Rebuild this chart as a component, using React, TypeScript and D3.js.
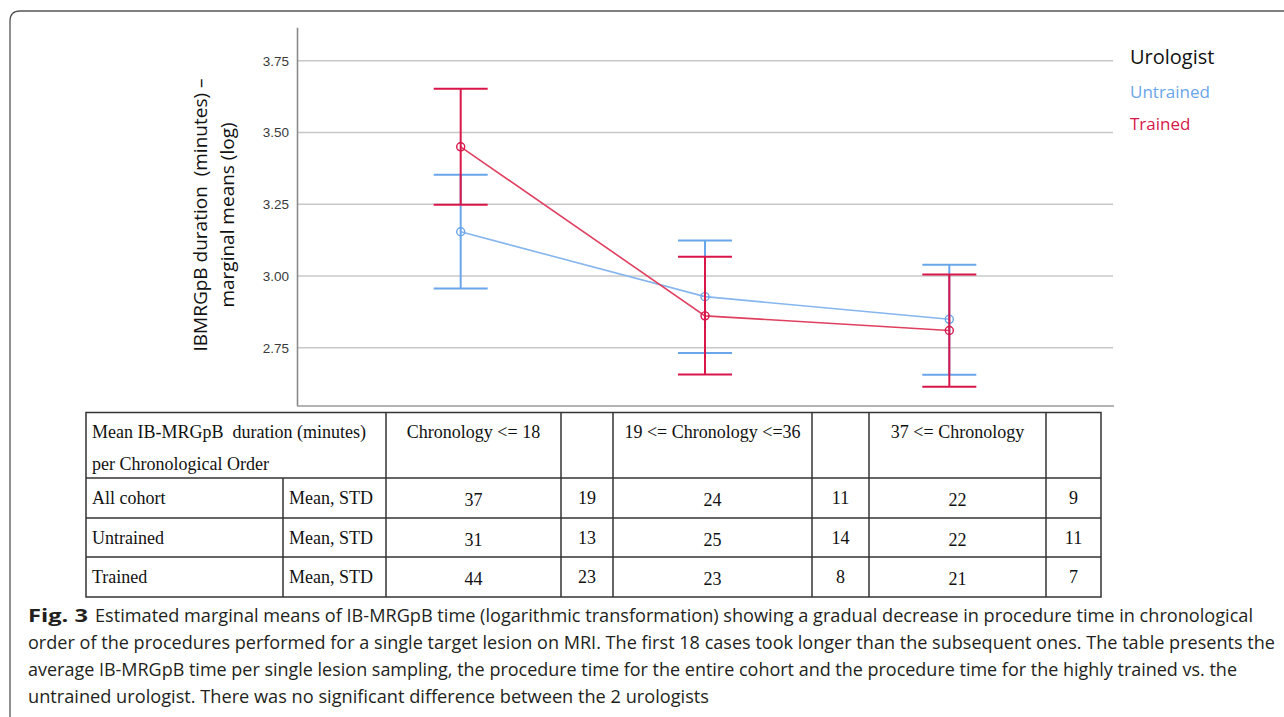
import React from "react";
import * as d3 from "d3";

// ---- data ----
const categories = ["Chronology <= 18", "19 <= Chronology <=36", "37 <= Chronology"];
const untrainedMean = [3.154, 2.928, 2.849];
const untrainedLower = [2.956, 2.732, 2.656];
const untrainedUpper = [3.353, 3.124, 3.039];
const trainedMean = [3.45, 2.861, 2.81];
const trainedLower = [3.248, 2.657, 2.614];
const trainedUpper = [3.652, 3.067, 3.005];
const yTicks = [2.75, 3.0, 3.25, 3.5, 3.75];

const tableRowLabels = ["All cohort", "Untrained", "Trained"];
const tableMeans = [
  [37, 24, 22],
  [31, 25, 22],
  [44, 23, 21],
];
const tableStd = [
  [19, 11, 9],
  [13, 14, 11],
  [23, 8, 7],
];

const captionLines = [
  "Estimated marginal means of IB-MRGpB time (logarithmic transformation) showing a gradual decrease in procedure time in chronological",
  "order of the procedures performed for a single target lesion on MRI. The first 18 cases took longer than the subsequent ones. The table presents the",
  "average IB-MRGpB time per single lesion sampling, the procedure time for the entire cohort and the procedure time for the highly trained vs. the",
  "untrained urologist. There was no significant difference between the 2 urologists",
];

const BLUE_BAR = "#6aa6ea";
const BLUE_LINE = "#86b6ee";
const RED_BAR = "#d8164a";
const RED_LINE = "#e0405f";

export default function App() {
  const x = d3.scalePoint<string>().domain(categories).range([297, 1113]).padding(0.67);
  const y = d3.scaleLinear().domain([2.547, 3.865]).range([406, 27.7]);
  const line = d3
    .line<number>()
    .x((_, i) => x(categories[i]) as number)
    .y((d) => y(d));

  const capHalf = 27;

  const series = [
    { mean: untrainedMean, lo: untrainedLower, hi: untrainedUpper, bar: BLUE_BAR, ln: BLUE_LINE },
    { mean: trainedMean, lo: trainedLower, hi: trainedUpper, bar: RED_BAR, ln: RED_LINE },
  ];

  // table layout
  const colX = [86, 283, 386, 561, 613, 812, 869, 1046, 1101];
  const rowY = [412.5, 478, 518, 557, 597];
  const tableStroke = "#333";
  const serif = "'Liberation Serif', 'Times New Roman', serif";
  const sans = "'Open Sans', 'Noto Sans', sans-serif";

  const captionEnds = [1253, 1275, 1237, 709];

  return (
    <svg
      width={1284}
      height={717}
      style={{ position: "absolute", left: 0, top: 0, background: "#fff" }}
    >
      {/* frame */}
      <path
        d="M 10 740 L 10 21 Q 10 11 20 11 L 1300 11"
        fill="none"
        stroke="#555"
        strokeWidth={1.3}
      />

      {/* gridlines */}
      {yTicks.map((t) => (
        <line key={t} x1={298} x2={1113} y1={y(t)} y2={y(t)} stroke="#c8c8c8" strokeWidth={1.6} />
      ))}
      {/* axes */}
      <line x1={297.5} x2={297.5} y1={27.7} y2={406} stroke="#8a8a8a" strokeWidth={1.6} />
      <line x1={297} x2={1114} y1={406} y2={406} stroke="#9a9a9a" strokeWidth={1.6} />
      {yTicks.map((t) => (
        <text
          key={t}
          x={289}
          y={y(t) + 5}
          textAnchor="end"
          fontFamily="'Liberation Sans', Arial, sans-serif"
          fontSize={13.5}
          fill="#3a3a3a"
        >
          {t.toFixed(2)}
        </text>
      ))}
      {/* y title */}
      <g transform="translate(207,215) rotate(-90)">
        <text x={0} y={0} textAnchor="middle" fontFamily={sans} fontSize={19} fill="#111" style={{ whiteSpace: "pre" }}>
          IBMRGpB duration  (minutes) –
        </text>
        <text x={0} y={27} textAnchor="middle" fontFamily={sans} fontSize={19} fill="#111">
          marginal means (log)
        </text>
      </g>

      {/* series */}
      {series.map((s, si) => (
        <g key={si}>
          <path d={line(s.mean) || ""} fill="none" stroke={s.ln} strokeWidth={1.6} />
          {categories.map((c, i) => {
            const cx = x(c) as number;
            return (
              <g key={c}>
                <line x1={cx} x2={cx} y1={y(s.hi[i])} y2={y(s.lo[i])} stroke={s.bar} strokeWidth={2} />
                <line x1={cx - capHalf} x2={cx + capHalf} y1={y(s.hi[i])} y2={y(s.hi[i])} stroke={s.bar} strokeWidth={2} />
                <line x1={cx - capHalf} x2={cx + capHalf} y1={y(s.lo[i])} y2={y(s.lo[i])} stroke={s.bar} strokeWidth={2} />
                <circle cx={cx} cy={y(s.mean[i])} r={4} fill="none" stroke={s.bar} strokeWidth={1.4} />
              </g>
            );
          })}
        </g>
      ))}

      {/* legend */}
      <text x={1130} y={64} fontFamily={sans} fontSize={20} fill="#111">Urologist</text>
      <text x={1130} y={98} fontFamily={sans} fontSize={17} fill={BLUE_BAR}>Untrained</text>
      <text x={1130} y={130} fontFamily={sans} fontSize={17} fill={RED_BAR}>Trained</text>

      {/* table */}
      <g stroke={tableStroke} strokeWidth={1.5}>
        <rect x={colX[0]} y={rowY[0]} width={colX[8] - colX[0]} height={rowY[4] - rowY[0]} fill="none" />
        {rowY.slice(1, 4).map((ry) => (
          <line key={ry} x1={colX[0]} x2={colX[8]} y1={ry} y2={ry} />
        ))}
        <line x1={colX[1]} x2={colX[1]} y1={rowY[1]} y2={rowY[4]} />
        {colX.slice(2, 8).map((cx) => (
          <line key={cx} x1={cx} x2={cx} y1={rowY[0]} y2={rowY[4]} />
        ))}
      </g>
      <g fontFamily={serif} fontSize={18} fill="#111">
        <text x={92} y={438} style={{ whiteSpace: "pre" }}>Mean IB-MRGpB  duration (minutes)</text>
        <text x={92} y={470}>per Chronological Order</text>
        {categories.map((c, i) => (
          <text key={c} x={(colX[2 + i * 2] + colX[3 + i * 2]) / 2} y={438} textAnchor="middle">
            {c}
          </text>
        ))}
        {tableRowLabels.map((r, ri) => {
          const by = (rowY[ri + 1] + rowY[ri + 2]) / 2 + 6;
          return (
            <g key={r}>
              <text x={92} y={by}>{r}</text>
              <text x={289} y={by}>Mean, STD</text>
              {tableMeans[ri].map((m, ci) => (
                <text key={"m" + ci} x={(colX[2 + ci * 2] + colX[3 + ci * 2]) / 2} y={by + 2} textAnchor="middle">
                  {m}
                </text>
              ))}
              {tableStd[ri].map((sd, ci) => (
                <text key={"s" + ci} x={(colX[3 + ci * 2] + colX[4 + ci * 2]) / 2} y={by} textAnchor="middle">
                  {sd}
                </text>
              ))}
            </g>
          );
        })}
      </g>

      {/* caption */}
      <g fontFamily="'Liberation Sans Narrow', 'Open Sans', sans-serif" fontSize={18} fill="#231f20">
        <text x={28} y={622} fontWeight="bold" textLength={60} lengthAdjust="spacingAndGlyphs">Fig. 3</text>
        {captionLines.map((l, i) => {
          const x0 = i === 0 ? 95 : 28;
          return (
            <text
              key={i}
              x={x0}
              y={622 + i * 27}
              textLength={captionEnds[i] - x0}
              lengthAdjust="spacingAndGlyphs"
            >
              {l}
            </text>
          );
        })}
      </g>
    </svg>
  );
}
